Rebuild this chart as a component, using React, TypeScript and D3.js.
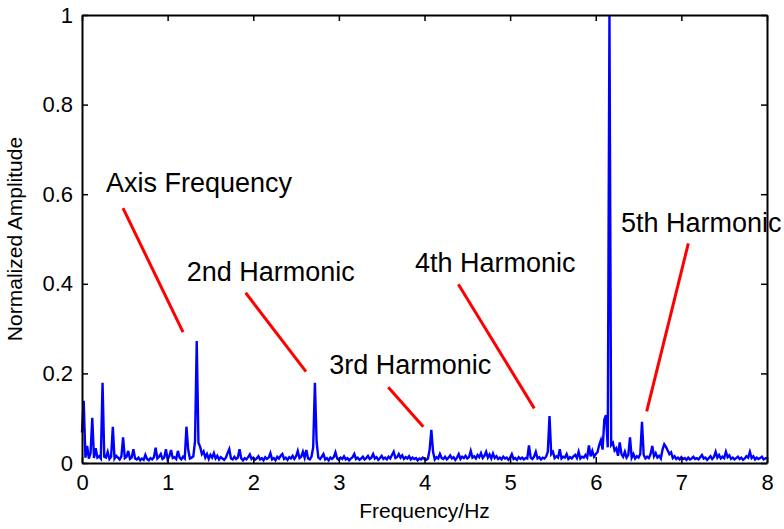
import React, { useEffect, useRef } from 'react';
import * as d3 from 'd3';

// spectrum sampled every 0.02 Hz from 0 to 8 Hz
const FREQ_STEP = 0.02;
const amplitude = [
  0.068, 0.139, 0.012, 0.038, 0.010, 0.022, 0.101, 0.011, 0.033, 0.012,
  0.015, 0.010, 0.179, 0.014, 0.012, 0.025, 0.009, 0.014, 0.081, 0.010,
  0.016, 0.012, 0.008, 0.015, 0.057, 0.011, 0.014, 0.027, 0.009, 0.012,
  0.031, 0.010, 0.008, 0.012, 0.006, 0.010, 0.007, 0.018, 0.009, 0.006,
  0.011, 0.008, 0.013, 0.034, 0.010, 0.014, 0.020, 0.009, 0.012, 0.031,
  0.008, 0.015, 0.029, 0.011, 0.013, 0.009, 0.027, 0.012, 0.008, 0.014,
  0.010, 0.081, 0.030, 0.010, 0.012, 0.015, 0.049, 0.272, 0.045, 0.036,
  0.020, 0.026, 0.012, 0.020, 0.009, 0.018, 0.012, 0.022, 0.010, 0.016,
  0.008, 0.013, 0.010, 0.007, 0.012, 0.022, 0.031, 0.010, 0.008, 0.014,
  0.009, 0.012, 0.031, 0.010, 0.006, 0.011, 0.008, 0.013, 0.019, 0.009,
  0.012, 0.007, 0.010, 0.015, 0.008, 0.011, 0.006, 0.013, 0.009, 0.012,
  0.022, 0.008, 0.011, 0.006, 0.014, 0.010, 0.016, 0.020, 0.009, 0.012,
  0.007, 0.013, 0.010, 0.016, 0.009, 0.015, 0.027, 0.011, 0.014, 0.025,
  0.012, 0.029, 0.010, 0.008, 0.014, 0.035, 0.179, 0.047, 0.012, 0.009,
  0.014, 0.020, 0.008, 0.011, 0.006, 0.012, 0.009, 0.013, 0.024, 0.010,
  0.007, 0.012, 0.009, 0.015, 0.008, 0.011, 0.006, 0.010, 0.013, 0.020,
  0.009, 0.012, 0.007, 0.010, 0.014, 0.008, 0.011, 0.016, 0.009, 0.012,
  0.020, 0.010, 0.013, 0.007, 0.011, 0.016, 0.009, 0.012, 0.008, 0.014,
  0.010, 0.018, 0.025, 0.011, 0.013, 0.020, 0.012, 0.017, 0.009, 0.013,
  0.010, 0.015, 0.008, 0.012, 0.009, 0.011, 0.006, 0.010, 0.008, 0.012,
  0.009, 0.007, 0.010, 0.030, 0.074, 0.025, 0.008, 0.013, 0.010, 0.020,
  0.011, 0.009, 0.014, 0.008, 0.012, 0.017, 0.010, 0.013, 0.007, 0.012,
  0.020, 0.009, 0.014, 0.011, 0.016, 0.010, 0.013, 0.027, 0.012, 0.015,
  0.010, 0.018, 0.013, 0.022, 0.011, 0.016, 0.025, 0.012, 0.019, 0.010,
  0.021, 0.011, 0.015, 0.009, 0.012, 0.008, 0.014, 0.010, 0.012, 0.007,
  0.012, 0.020, 0.009, 0.011, 0.007, 0.013, 0.009, 0.012, 0.008, 0.011,
  0.010, 0.039, 0.012, 0.009, 0.014, 0.025, 0.010, 0.013, 0.008, 0.012,
  0.010, 0.014, 0.025, 0.105, 0.020, 0.025, 0.011, 0.015, 0.012, 0.031,
  0.010, 0.014, 0.012, 0.020, 0.009, 0.013, 0.010, 0.015, 0.018, 0.011,
  0.025, 0.010, 0.014, 0.012, 0.018, 0.012, 0.039, 0.015, 0.027, 0.014,
  0.020, 0.024, 0.040, 0.051, 0.030, 0.097, 0.107, 0.035, 1.000, 0.040,
  0.045, 0.028, 0.033, 0.016, 0.046, 0.020, 0.014, 0.025, 0.012, 0.018,
  0.057, 0.012, 0.020, 0.010, 0.015, 0.012, 0.020, 0.092, 0.018, 0.010,
  0.014, 0.011, 0.020, 0.038, 0.015, 0.022, 0.012, 0.016, 0.010, 0.030,
  0.042, 0.036, 0.028, 0.020, 0.024, 0.011, 0.015, 0.009, 0.012, 0.008,
  0.013, 0.009, 0.011, 0.007, 0.012, 0.008, 0.010, 0.014, 0.009, 0.011,
  0.008, 0.013, 0.018, 0.010, 0.012, 0.007, 0.011, 0.015, 0.009, 0.013,
  0.025, 0.012, 0.018, 0.010, 0.014, 0.011, 0.025, 0.013, 0.017, 0.009,
  0.012, 0.008, 0.011, 0.014, 0.009, 0.012, 0.007, 0.010, 0.015, 0.012,
  0.025, 0.011, 0.015, 0.008, 0.012, 0.009, 0.011, 0.014, 0.008, 0.010,
  0.012,
];

const xTicks = [0, 1, 2, 3, 4, 5, 6, 7, 8];
const yTicks = [0, 0.2, 0.4, 0.6, 0.8, 1];
const yTickLabels = ['0', '0.2', '0.4', '0.6', '0.8', '1'];

// annotations, in data units (Hz, amplitude)
const noteLabels = ['Axis Frequency', '2nd Harmonic', '3rd Harmonic', '4th Harmonic', '5th Harmonic'];
const noteText: [number, number][] = [
  [0.28, 0.606],
  [1.223, 0.407],
  [2.888, 0.198],
  [3.889, 0.427],
  [6.295, 0.516],
];
const noteFrom: [number, number][] = [
  [0.479, 0.569],
  [1.911, 0.38],
  [3.577, 0.169],
  [4.395, 0.399],
  [7.081, 0.49],
];
const noteTo: [number, number][] = [
  [1.18, 0.292],
  [2.616, 0.204],
  [3.986, 0.081],
  [5.282, 0.122],
  [6.595, 0.115],
];

const W = 784;
const H = 529;
const margin = { top: 15, right: 17, bottom: 66, left: 82 };
const FONT = '"Liberation Sans", Arial, sans-serif';

const App = () => {
  const svgRef = useRef<SVGSVGElement | null>(null);

  useEffect(() => {
    if (!svgRef.current) return;
    const svg = d3.select(svgRef.current);
    svg.selectAll('*').remove();

    const width = W - margin.left - margin.right;
    const height = H - margin.top - margin.bottom;

    const x = d3.scaleLinear().domain([0, 8]).range([0, width]);
    const y = d3.scaleLinear().domain([0, 1]).range([height, 0]);

    const chart = svg.append('g').attr('transform', `translate(${margin.left},${margin.top})`);

    // spectrum
    const line = d3
      .line<number>()
      .x((_, i) => x(i * FREQ_STEP))
      .y((d) => y(d));

    chart
      .append('path')
      .datum(amplitude)
      .attr('d', line)
      .attr('fill', 'none')
      .attr('stroke', '#0000ff')
      .attr('stroke-width', 2.4);

    // annotations
    noteLabels.forEach((label, i) => {
      chart
        .append('line')
        .attr('x1', x(noteFrom[i][0]))
        .attr('y1', y(noteFrom[i][1]))
        .attr('x2', x(noteTo[i][0]))
        .attr('y2', y(noteTo[i][1]))
        .attr('stroke', '#ff0000')
        .attr('stroke-width', 3);

      chart
        .append('text')
        .attr('x', x(noteText[i][0]))
        .attr('y', y(noteText[i][1]))
        .attr('font-family', FONT)
        .attr('font-size', 27)
        .attr('fill', '#000')
        .text(label);
    });

    // axes, MATLAB style box with ticks inside
    const styleAxis = (g: d3.Selection<SVGGElement, unknown, null, undefined>) => {
      g.select('.domain').attr('stroke', '#000').attr('stroke-width', 2);
      g.selectAll('.tick line').attr('stroke', '#000').attr('stroke-width', 1.5);
      g.selectAll('.tick text').attr('font-family', FONT).attr('font-size', 22).attr('fill', '#000');
    };

    chart
      .append('g')
      .attr('transform', `translate(0,${height})`)
      .call(d3.axisBottom(x).tickValues(xTicks).tickSize(-6).tickSizeOuter(0).tickPadding(11).tickFormat(d3.format('d')))
      .call(styleAxis);

    chart
      .append('g')
      .call(
        d3
          .axisLeft(y)
          .tickValues(yTicks)
          .tickSize(-6)
          .tickSizeOuter(0)
          .tickPadding(9)
          .tickFormat((_, i) => yTickLabels[i]),
      )
      .call(styleAxis);

    chart
      .append('g')
      .call(d3.axisTop(x).tickValues(xTicks).tickSize(-6).tickSizeOuter(0).tickFormat(() => ''))
      .call(styleAxis);

    chart
      .append('g')
      .attr('transform', `translate(${width},0)`)
      .call(d3.axisRight(y).tickValues(yTicks).tickSize(-6).tickSizeOuter(0).tickFormat(() => ''))
      .call(styleAxis);

    // axis titles
    chart
      .append('text')
      .attr('x', width / 2)
      .attr('y', height + 55)
      .attr('text-anchor', 'middle')
      .attr('font-family', FONT)
      .attr('font-size', 21)
      .text('Frequency/Hz');

    chart
      .append('text')
      .attr('transform', `translate(${-60},${height / 2}) rotate(-90)`)
      .attr('text-anchor', 'middle')
      .attr('font-family', FONT)
      .attr('font-size', 21)
      .text('Normalized Amplitude');
  }, []);

  return (
    <svg
      ref={svgRef}
      width={W}
      height={H}
      style={{ position: 'absolute', left: 0, top: 0, background: '#fff', display: 'block' }}
    />
  );
};

export default App;
